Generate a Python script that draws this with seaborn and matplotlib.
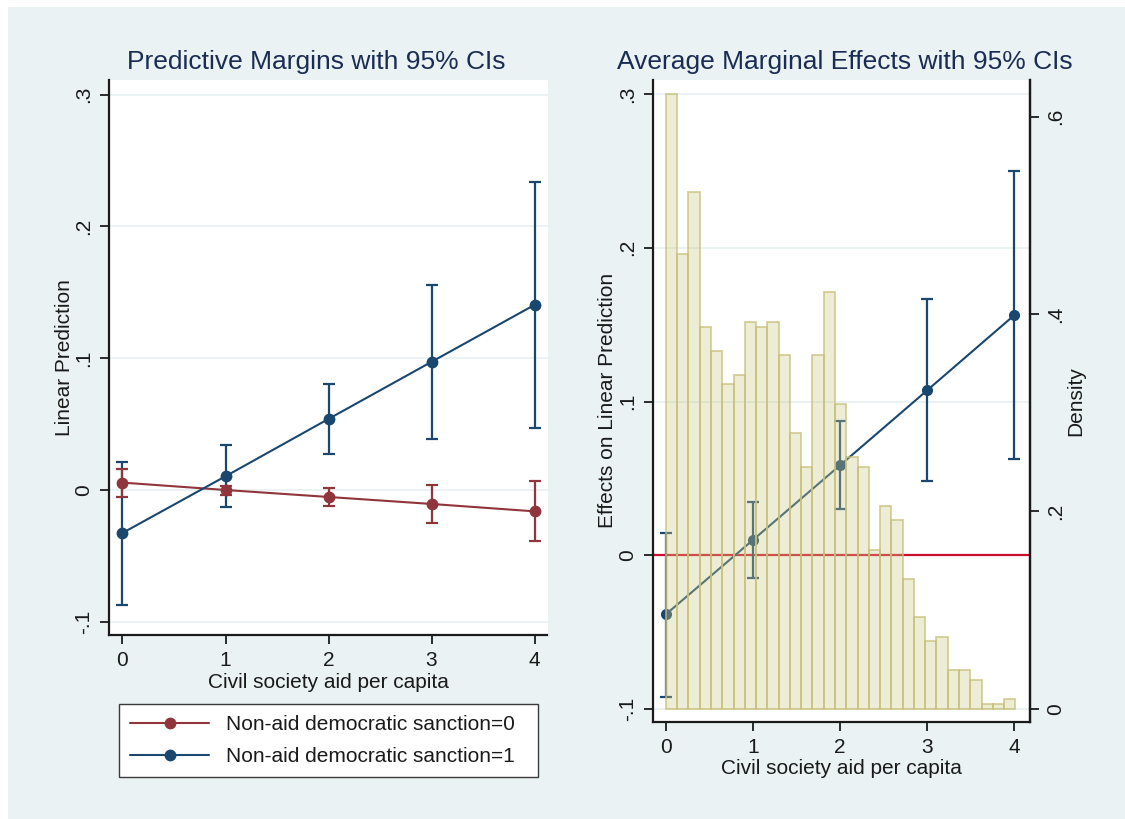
import numpy as np
import pandas as pd
import matplotlib
matplotlib.use("Agg")
import matplotlib.pyplot as plt
from matplotlib.patches import Rectangle
from matplotlib.lines import Line2D
import seaborn as sns

# ---- data -------------------------------------------------------------
aid_levels = [0, 1, 2, 3, 4]

# Predictive margins, non-aid democratic sanction = 0
margin_s0 = [0.0056, 0.0000, -0.0053, -0.0106, -0.0162]
margin_s0_lo = [-0.0053, -0.0038, -0.0121, -0.0253, -0.0390]
margin_s0_hi = [0.0162, 0.0030, 0.0013, 0.0035, 0.0068]

# Predictive margins, non-aid democratic sanction = 1
margin_s1 = [-0.0326, 0.0104, 0.0539, 0.0972, 0.1404]
margin_s1_lo = [-0.0873, -0.0131, 0.0271, 0.0385, 0.0473]
margin_s1_hi = [0.0215, 0.0340, 0.0805, 0.1556, 0.2338]

# Average marginal effect of the sanction
ame = [-0.0384, 0.0100, 0.0586, 0.1074, 0.1563]
ame_lo = [-0.0920, -0.0146, 0.0303, 0.0483, 0.0628]
ame_hi = [0.0147, 0.0349, 0.0874, 0.1668, 0.2497]

# Density histogram of civil society aid per capita (31 bins on [0, 4.01])
aid_density = [0.623, 0.461, 0.524, 0.387, 0.363, 0.329, 0.338, 0.392,
               0.387, 0.392, 0.358, 0.279, 0.245, 0.358, 0.422, 0.309,
               0.255, 0.245, 0.161, 0.206, 0.191, 0.132, 0.093, 0.069,
               0.073, 0.039, 0.039, 0.029, 0.005, 0.005, 0.0098]
hist_lo, hist_hi = 0.0, 4.01

y_ticks = [-0.1, 0.0, 0.1, 0.2, 0.3]
y_tick_labels = ["-.1", "0", ".1", ".2", ".3"]
dens_ticks = [0.0, 0.2, 0.4, 0.6]
dens_tick_labels = ["0", ".2", ".4", ".6"]

legend_labels = ["Non-aid democratic sanction=0", "Non-aid democratic sanction=1"]

# ---- style ------------------------------------------------------------
sns.set_theme(style="white")
plt.rcParams["font.family"] = ["Liberation Sans", "DejaVu Sans"]

BG = "#EAF2F3"
NAVY = "#1A476F"
MAROON = "#90353B"
RED = "#C8102E"
TITLE_C = "#1B2C54"
INK = "#1A1A1A"
HIST_FACE = (0.808, 0.788, 0.518, 0.35)
HIST_EDGE = (0.78, 0.75, 0.48, 0.75)
FS = 15
TITLE_FS = 19

W, H = 1125, 819
fig = plt.figure(figsize=(W / 100, H / 100), dpi=100, facecolor="white")
fig.patches.append(Rectangle((8 / W, 0), 1, 1 - 7 / H, transform=fig.transFigure,
                             facecolor=BG, edgecolor="none", zorder=-10))

ax1 = fig.add_axes([109 / W, 1 - 635 / H, 438.5 / W, 555 / H])
ax2 = fig.add_axes([653 / W, 1 - 721.7 / H, 377 / W, 641.7 / H])
axd = ax2.twinx()


def style_axis(ax, right=False):
    for side in ["top", "right", "left", "bottom"]:
        ax.spines[side].set_visible(False)
    ax.spines["bottom"].set_visible(True)
    ax.spines["left"].set_visible(True)
    if right:
        ax.spines["right"].set_visible(True)
    for s in ax.spines.values():
        s.set_color(INK)
        s.set_linewidth(1.6)
    ax.tick_params(axis="both", which="major", direction="out", length=6.5,
                   width=1.3, color=INK, labelcolor=INK, labelsize=FS,
                   bottom=True, left=True)
    ax.tick_params(axis="x", pad=5)
    ax.tick_params(axis="y", labelrotation=90, pad=5)


def ci_bars(ax, x, y, lo, hi, color, z):
    y = np.asarray(y)
    err = [y - np.asarray(lo), np.asarray(hi) - y]
    ax.errorbar(x, y, yerr=err, fmt="none", ecolor=color, elinewidth=1.6,
                capsize=4.0, capthick=1.6, zorder=z)


# ---- left panel: predictive margins ------------------------------------
ax1.set_facecolor("white")
ax1.yaxis.grid(True, color=BG, linewidth=1.4)
ax1.set_axisbelow(True)

ci_bars(ax1, aid_levels, margin_s1, margin_s1_lo, margin_s1_hi, NAVY, 2)
ci_bars(ax1, aid_levels, margin_s0, margin_s0_lo, margin_s0_hi, MAROON, 3)
margins = pd.DataFrame({"aid": aid_levels, "s0": margin_s0, "s1": margin_s1})
sns.lineplot(data=margins, x="aid", y="s0", ax=ax1, color=MAROON, marker="o",
             markersize=8.5, markeredgewidth=0, linewidth=1.5, zorder=4)
sns.lineplot(data=margins, x="aid", y="s1", ax=ax1, color=NAVY, marker="o",
             markersize=8.5, markeredgewidth=0, linewidth=1.5, zorder=5)

ax1.set_xlim(-0.131, 4.126)
ax1.set_ylim(-0.110, 0.311)
ax1.set_xticks(aid_levels)
ax1.set_xticklabels([str(v) for v in aid_levels])
ax1.set_yticks(y_ticks)
ax1.set_yticklabels(y_tick_labels, va="center")
style_axis(ax1)
ax1.set_xlabel("Civil society aid per capita", fontsize=FS, color=INK, labelpad=2)
ax1.set_ylabel("Linear Prediction", fontsize=FS, color=INK, labelpad=0)
ax1.set_title("Predictive Margins with 95% CIs", fontsize=TITLE_FS, color=TITLE_C,
              pad=8, x=0.473)

handles = [Line2D([0], [0], color=MAROON, marker="o", markersize=8.5,
                  markeredgewidth=0, linewidth=1.5),
           Line2D([0], [0], color=NAVY, marker="o", markersize=8.5,
                  markeredgewidth=0, linewidth=1.5)]
leg = fig.legend(handles, legend_labels, loc="upper left",
                 bbox_to_anchor=(119 / W, 1 - 775 / H, 418.7 / W, 71 / H),
                 mode="expand", borderaxespad=0, frameon=True, fancybox=False,
                 framealpha=1, facecolor="white", edgecolor="#3A3A3A",
                 fontsize=FS, handlelength=3.75, handletextpad=0.85,
                 labelspacing=0.6, borderpad=0.55)
leg.get_frame().set_linewidth(1.0)
for t in leg.get_texts():
    t.set_color(INK)

# ---- right panel: average marginal effects + aid density ---------------
ax2.set_facecolor("white")
ax2.yaxis.grid(True, color=BG, linewidth=1.4)
ax2.set_axisbelow(True)
ax2.axhline(0, color=RED, linewidth=1.6, zorder=1.5)
ci_bars(ax2, aid_levels, ame, ame_lo, ame_hi, NAVY, 2)
sns.lineplot(x=aid_levels, y=ame, ax=ax2, color=NAVY, marker="o",
             markersize=8, markeredgewidth=0, linewidth=1.5, zorder=3)

n_bins = len(aid_density)
bin_width = (hist_hi - hist_lo) / n_bins
bin_mids = hist_lo + bin_width * (np.arange(n_bins) + 0.5)
hist_df = pd.DataFrame({"aid": bin_mids, "density": aid_density})
sns.histplot(data=hist_df, x="aid", weights="density", bins=n_bins,
             binrange=(hist_lo, hist_hi), stat="count", ax=axd,
             facecolor=HIST_FACE, edgecolor=HIST_EDGE, linewidth=1.3, shrink=1.0)

ax2.set_xlim(-0.148, 4.178)
ax2.set_ylim(-0.1083, 0.3092)
axd.set_ylim(-0.0129, 0.637)
ax2.set_xticks(aid_levels)
ax2.set_xticklabels([str(v) for v in aid_levels])
ax2.set_yticks(y_ticks)
ax2.set_yticklabels(y_tick_labels, va="center")
axd.set_yticks(dens_ticks)
axd.set_yticklabels(dens_tick_labels, va="center")
style_axis(ax2, right=True)
style_axis(axd, right=True)
axd.spines["left"].set_visible(False)
axd.spines["bottom"].set_visible(False)
axd.tick_params(axis="y", left=False, labelleft=False, right=True, labelright=True)
axd.tick_params(axis="x", bottom=False, labelbottom=False)
axd.set_ylabel("Density", fontsize=FS, color=INK, labelpad=1)
axd.set_xlabel("")
ax2.set_xlabel("Civil society aid per capita", fontsize=FS, color=INK, labelpad=2)
ax2.set_ylabel("Effects on Linear Prediction", fontsize=FS, color=INK, labelpad=1)
ax2.set_title("Average Marginal Effects with 95% CIs", fontsize=TITLE_FS,
              color=TITLE_C, pad=8, x=0.509)

fig.savefig("out.png", dpi=100, facecolor=fig.get_facecolor())
